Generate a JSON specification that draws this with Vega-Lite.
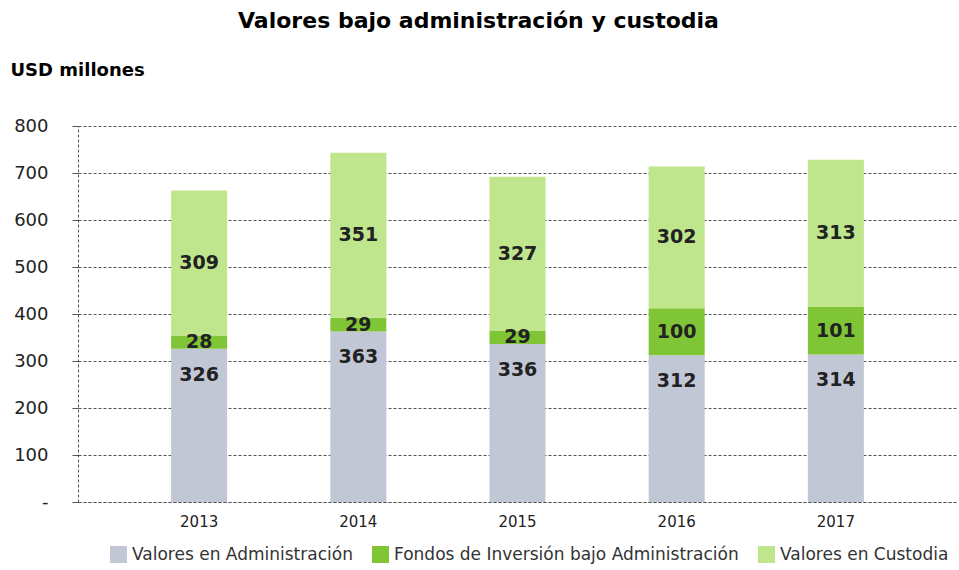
{
  "$schema": "https://vega.github.io/schema/vega-lite/v6.json",
  "width": 879,
  "height": 376,
  "autosize": {"type": "none"},
  "padding": {"left": 78, "top": 126, "right": 2, "bottom": 68},
  "background": "white",
  "title": {
    "text": "Valores bajo administración y custodia",
    "font": "DejaVu Sans",
    "fontSize": 22,
    "fontWeight": "bold",
    "color": "#000",
    "anchor": "middle",
    "frame": "group",
    "dx": -39,
    "dy": -18,
    "offset": 10
  },
  "config": {"view": {"stroke": null}},
  "data": {
    "values": [
      {"anio": "2013", "serie": "Valores en Administración", "valor": 326},
      {"anio": "2013", "serie": "Fondos de Inversión bajo Administración", "valor": 28},
      {"anio": "2013", "serie": "Valores en Custodia", "valor": 309},
      {"anio": "2014", "serie": "Valores en Administración", "valor": 363},
      {"anio": "2014", "serie": "Fondos de Inversión bajo Administración", "valor": 29},
      {"anio": "2014", "serie": "Valores en Custodia", "valor": 351},
      {"anio": "2015", "serie": "Valores en Administración", "valor": 336},
      {"anio": "2015", "serie": "Fondos de Inversión bajo Administración", "valor": 29},
      {"anio": "2015", "serie": "Valores en Custodia", "valor": 327},
      {"anio": "2016", "serie": "Valores en Administración", "valor": 312},
      {"anio": "2016", "serie": "Fondos de Inversión bajo Administración", "valor": 100},
      {"anio": "2016", "serie": "Valores en Custodia", "valor": 302},
      {"anio": "2017", "serie": "Valores en Administración", "valor": 314},
      {"anio": "2017", "serie": "Fondos de Inversión bajo Administración", "valor": 101},
      {"anio": "2017", "serie": "Valores en Custodia", "valor": 313}
    ]
  },
  "transform": [
    {"calculate": "indexof(['Valores en Administración','Fondos de Inversión bajo Administración','Valores en Custodia'], datum.serie)", "as": "orden"},
    {"stack": "valor", "groupby": ["anio"], "sort": [{"field": "orden", "order": "ascending"}], "as": ["y0", "y1"]},
    {"calculate": "datum.orden == 0 ? datum.y1 - 55 : (datum.y0 + datum.y1) / 2", "as": "ylab"}
  ],
  "encoding": {
    "x": {
      "field": "anio",
      "type": "nominal",
      "scale": {"paddingInner": 0.648, "paddingOuter": 0.585},
      "axis": {
        "title": null,
        "labelAngle": 0,
        "ticks": false,
        "domainColor": "#555",
        "domainDash": [3, 2],
        "labelFont": "DejaVu Sans",
        "labelFontSize": 15,
        "labelColor": "#222",
        "labelPadding": 12
      }
    }
  },
  "layer": [
    {
      "mark": {"type": "bar"},
      "encoding": {
        "y": {
          "field": "y1",
          "type": "quantitative",
          "scale": {"domain": [0, 800], "nice": false},
          "axis": {
            "title": "USD millones",
            "titleAngle": 0,
            "titleX": -68,
            "titleY": -56,
            "titleAlign": "left",
            "titleBaseline": "middle",
            "titleFont": "DejaVu Sans",
            "titleFontSize": 18,
            "titleFontWeight": "bold",
            "titleColor": "#000",
            "values": [0, 100, 200, 300, 400, 500, 600, 700, 800],
            "labelExpr": "datum.value == 0 ? '-' : datum.label",
            "grid": true,
            "gridDash": [3, 2],
            "gridColor": "#555",
            "domainColor": "#555",
            "domainDash": [3, 2],
            "tickColor": "#555",
            "tickSize": 6,
            "labelPadding": 24,
            "labelFont": "DejaVu Sans",
            "labelFontSize": 18,
            "labelColor": "#222"
          }
        },
        "y2": {"field": "y0"},
        "color": {
          "field": "serie",
          "type": "nominal",
          "scale": {
            "domain": ["Valores en Administración", "Fondos de Inversión bajo Administración", "Valores en Custodia"],
            "range": ["#c2c7d6", "#80c535", "#bfe68c"]
          },
          "legend": {
            "title": null,
            "orient": "none",
            "direction": "horizontal",
            "legendX": 32,
            "legendY": 420,
            "symbolType": "square",
            "symbolSize": 289,
            "symbolStrokeWidth": 0,
            "labelOffset": 5,
            "labelFont": "DejaVu Sans",
            "labelFontSize": 17,
            "labelColor": "#333",
            "labelLimit": 450,
            "columnPadding": 19
          }
        }
      }
    },
    {
      "mark": {"type": "text", "font": "DejaVu Sans", "fontSize": 19, "fontWeight": "bold", "color": "#222"},
      "encoding": {
        "y": {"field": "ylab", "type": "quantitative"},
        "text": {"field": "valor", "type": "quantitative"}
      }
    }
  ]
}
